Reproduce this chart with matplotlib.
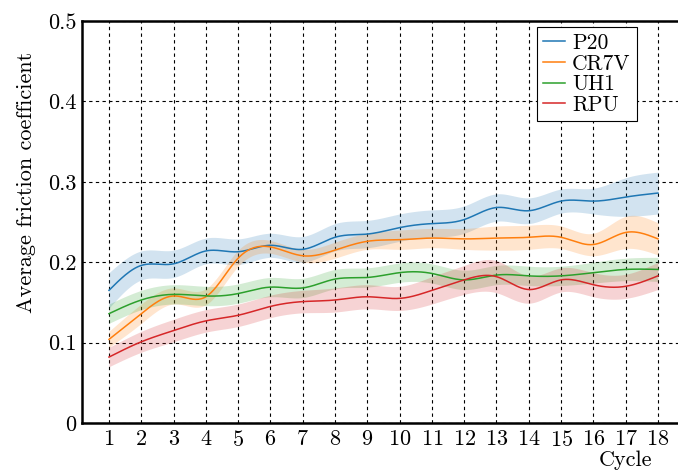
import matplotlib
matplotlib.use('Agg')
import matplotlib.pyplot as plt
import numpy as np

plt.rcParams['font.family'] = ['cmr10', 'DejaVu Serif']
plt.rcParams['mathtext.fontset'] = 'cm'
plt.rcParams['axes.formatter.use_mathtext'] = True

cycles = np.arange(1, 19)

p20 = [0.165, 0.196, 0.198, 0.214, 0.213, 0.221, 0.216, 0.231, 0.235,
       0.243, 0.248, 0.253, 0.268, 0.264, 0.276, 0.276, 0.281, 0.286]
p20_sd = [0.022, 0.018, 0.017, 0.016, 0.016, 0.015, 0.016, 0.017, 0.017,
          0.017, 0.017, 0.017, 0.017, 0.016, 0.015, 0.016, 0.024, 0.026]

cr7v = [0.104, 0.136, 0.158, 0.157, 0.205, 0.219, 0.208, 0.215, 0.226,
        0.228, 0.230, 0.229, 0.230, 0.231, 0.231, 0.222, 0.237, 0.229]
cr7v_sd = [0.010, 0.012, 0.010, 0.010, 0.010, 0.008, 0.008, 0.010, 0.010,
           0.012, 0.012, 0.013, 0.015, 0.015, 0.014, 0.014, 0.020, 0.020]

uh1 = [0.136, 0.153, 0.160, 0.158, 0.161, 0.169, 0.168, 0.179, 0.181,
       0.187, 0.186, 0.178, 0.184, 0.183, 0.183, 0.187, 0.191, 0.191]
uh1_sd = [0.012, 0.012, 0.012, 0.012, 0.012, 0.012, 0.012, 0.012, 0.012,
          0.012, 0.012, 0.012, 0.012, 0.012, 0.012, 0.013, 0.014, 0.015]

rpu = [0.082, 0.101, 0.115, 0.127, 0.134, 0.145, 0.151, 0.153, 0.157,
       0.155, 0.165, 0.178, 0.182, 0.166, 0.178, 0.172, 0.170, 0.183]
rpu_sd = [0.012, 0.013, 0.014, 0.014, 0.014, 0.014, 0.014, 0.015, 0.015,
          0.015, 0.017, 0.018, 0.020, 0.017, 0.015, 0.015, 0.015, 0.017]

labels = ['P20', 'CR7V', 'UH1', 'RPU']
colors = ['#1f77b4', '#ff7f0e', '#2ca02c', '#d62728']


# natural cubic spline, so the curves come out smooth between cycles
def spline(x, y, xs):
    x = np.asarray(x, float)
    y = np.asarray(y, float)
    n = len(x)
    h = np.diff(x)
    A = np.zeros((n, n))
    r = np.zeros(n)
    A[0, 0] = 1
    A[-1, -1] = 1
    for i in range(1, n - 1):
        A[i, i - 1] = h[i - 1]
        A[i, i] = 2 * (h[i - 1] + h[i])
        A[i, i + 1] = h[i]
        r[i] = 6 * ((y[i + 1] - y[i]) / h[i] - (y[i] - y[i - 1]) / h[i - 1])
    M = np.linalg.solve(A, r)
    k = np.clip(np.searchsorted(x, xs) - 1, 0, n - 2)
    t1 = x[k + 1] - xs
    t0 = xs - x[k]
    hk = h[k]
    return (M[k] * t1**3 / (6 * hk) + M[k + 1] * t0**3 / (6 * hk)
            + (y[k] / hk - M[k] * hk / 6) * t1
            + (y[k + 1] / hk - M[k + 1] * hk / 6) * t0)


fig = plt.figure(figsize=(6.78, 4.72), dpi=100)
ax = fig.add_axes([82 / 678, 1 - 423 / 472, 1 - 82 / 678, (423 - 21) / 472])

xs = np.linspace(1, 18, 400)
series = [(p20, p20_sd), (cr7v, cr7v_sd), (uh1, uh1_sd), (rpu, rpu_sd)]
for (mean, sd), lab, col in zip(series, labels, colors):
    mean = np.array(mean)
    sd = np.array(sd)
    lo = spline(cycles, mean - sd, xs)
    hi = spline(cycles, mean + sd, xs)
    ax.fill_between(xs, lo, hi, color=col, alpha=0.2, linewidth=0, zorder=2)
    ax.plot(xs, spline(cycles, mean, xs), color=col, linewidth=1.1, label=lab, zorder=3)

ax.set_xlim(1 - 27 / 32.29, 1 + (678 - 109) / 32.29)
ax.set_ylim(0, 0.5)
ax.set_xticks(cycles)
ax.set_yticks([0, 0.1, 0.2, 0.3, 0.4, 0.5])
ax.set_yticklabels(['0', '0.1', '0.2', '0.3', '0.4', '0.5'])
ax.tick_params(length=0, labelsize=16)
ax.tick_params(axis='x', pad=5)
ax.tick_params(axis='y', pad=4)

ax.grid(True, color='black', linestyle=(0, (3, 3)), linewidth=0.8, zorder=1)
ax.set_axisbelow(True)
ax.spines['right'].set_visible(False)
for s in ['left', 'top', 'bottom']:
    ax.spines[s].set_linewidth(1.8)

ax.set_ylabel('Average friction coefficient', fontsize=16, va='center')
ax.yaxis.set_label_coords((26 - 82) / 596, (423 - 182) / 402)
ax.set_xlabel('Cycle', fontsize=16, va='center')
ax.xaxis.set_label_coords((626 - 82) / 596, (423 - 460) / 402)

leg = ax.legend(loc='upper right', bbox_to_anchor=((637 - 82) / 596, (423 - 27) / 402),
                borderaxespad=0, fontsize=15.5, frameon=True, fancybox=False,
                handlelength=1.0, handletextpad=0.35, labelspacing=0.05,
                borderpad=0.3)
leg.get_frame().set_edgecolor('black')
leg.get_frame().set_linewidth(0.8)
leg.get_frame().set_alpha(1)

fig.savefig('out.png', dpi=100)
